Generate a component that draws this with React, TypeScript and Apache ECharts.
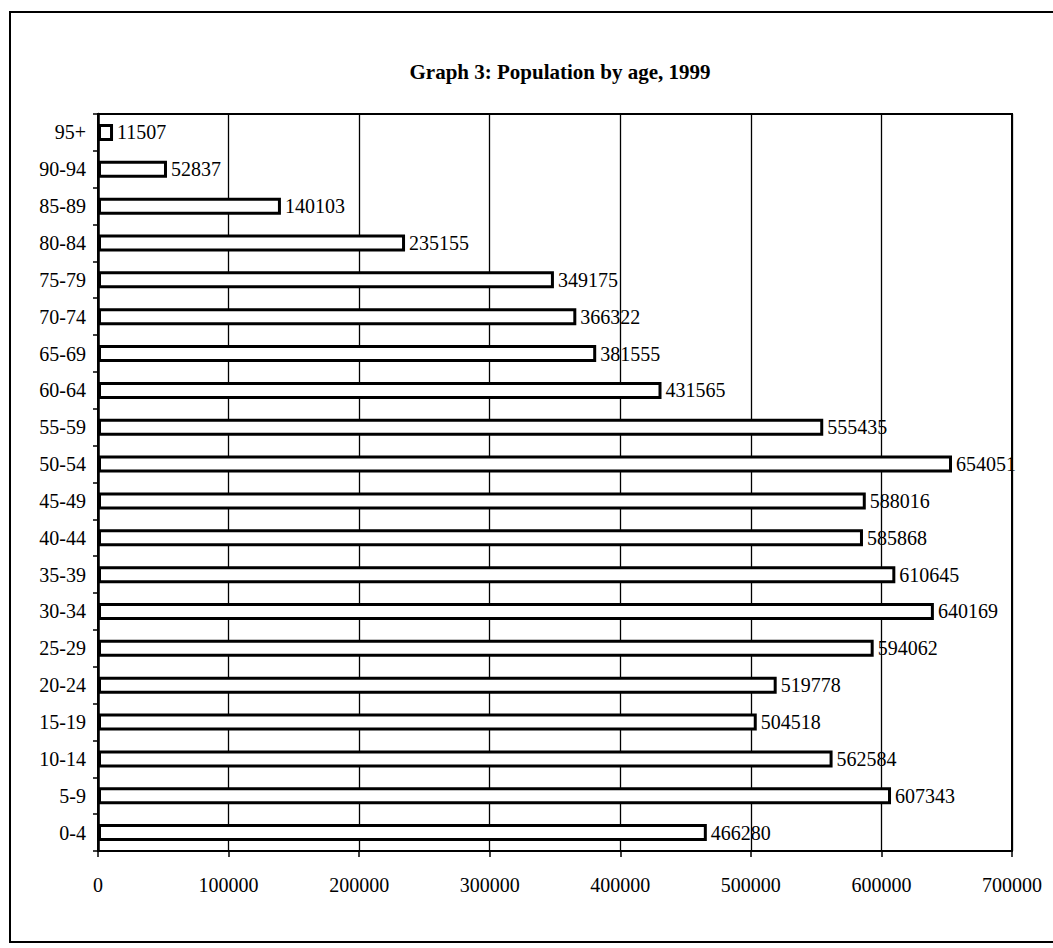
import React, { useEffect, useRef } from "react";
import * as echarts from "echarts";

const categories = ["0-4","5-9","10-14","15-19","20-24","25-29","30-34","35-39","40-44","45-49","50-54","55-59","60-64","65-69","70-74","75-79","80-84","85-89","90-94","95+"];
const values = [466280,607343,562584,504518,519778,594062,640169,610645,585868,588016,654051,555435,431565,381555,366322,349175,235155,140103,52837,11507];
const titleText = "Graph 3: Population by age, 1999";

export default function App() {
  const ref = useRef<HTMLDivElement>(null);
  useEffect(() => {
    const chart = echarts.init(ref.current!, null, { renderer: "svg" });
    const font = "'Liberation Serif', 'Times New Roman', serif";
    chart.setOption({
      animation: false,
      backgroundColor: "#fff",
      title: {
        text: titleText,
        left: 555,
        textAlign: "center",
        top: 56,
        textStyle: { fontFamily: font, fontSize: 21, fontWeight: "bold", color: "#000" },
      },
      grid: { left: 98, right: 41, top: 114, bottom: 97, show: true, borderColor: "#000", borderWidth: 2, backgroundColor: "transparent" },
      xAxis: {
        type: "value",
        min: 0,
        max: 700000,
        interval: 100000,
        axisLine: { show: true, lineStyle: { color: "#000", width: 2 } },
        axisTick: { show: true, length: 6, lineStyle: { color: "#000", width: 1.5 } },
        axisLabel: { fontFamily: font, fontSize: 20, color: "#000", margin: 24, formatter: (v: number) => String(v) },
        splitLine: { show: true, lineStyle: { color: "#000", width: 1.3 } },
      },
      yAxis: {
        type: "category",
        data: categories,
        axisLine: { show: true, lineStyle: { color: "#000", width: 2.5 } },
        axisTick: { show: true, length: 5, inside: false, lineStyle: { color: "#000", width: 1.5 } },
        axisLabel: { fontFamily: font, fontSize: 20, color: "#000", margin: 12 },
        splitLine: { show: false },
      },
      series: [
        {
          type: "bar",
          data: values,
          barWidth: 17,
          itemStyle: { color: "#fff", borderColor: "#000", borderWidth: 3 },
          label: {
            show: true,
            position: "right",
            distance: 4,
            fontFamily: font,
            fontSize: 20,
            color: "#000",
          },
        },
      ],
      graphic: [
        {
          type: "rect",
          shape: { x: 10, y: 12, width: 1060, height: 930 },
          style: { fill: "none", stroke: "#000", lineWidth: 2 },
          silent: true,
        },
      ],
    });
    return () => chart.dispose();
  }, []);
  return <div ref={ref} style={{ position: "fixed", left: 0, top: 0, width: 1053, height: 948 }} />;
}
